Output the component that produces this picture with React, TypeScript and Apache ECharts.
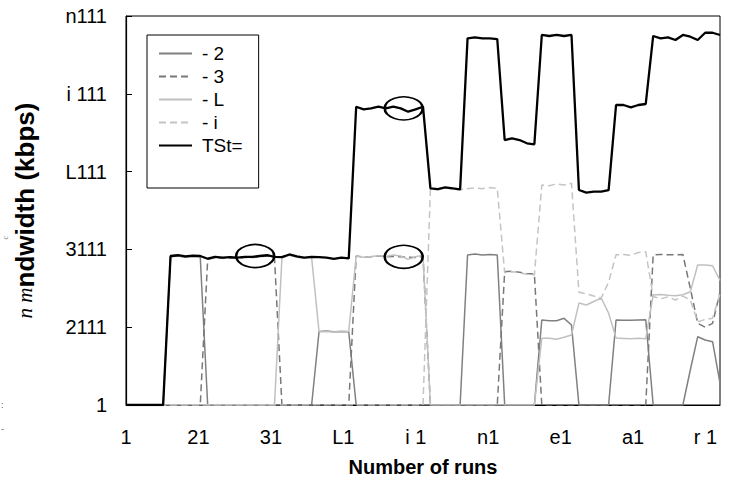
import React, { useEffect, useRef } from "react";
import * as echarts from "echarts";

// Garbled tick labels as printed in the reference
const yTickLabels = ["1", "2111", "3111", "L111", "i 111", "n111"];
const xTickLabels = ["1", "21", "31", "L1", "i 1", "n1", "e1", "a1", "r 1"];

const seriesNames = ["- 2", "- 3", "- L", "- i", "TSt="];

// Values per run (index 0..80)
const total = [
  0, 0, 0, 0, 0, 0,
  1915, 1925, 1910, 1920, 1915, 1880, 1905, 1895, 1900, 1895, 1905, 1905, 1915, 1925,
  1905, 1900, 1935, 1910, 1895, 1905, 1900, 1893, 1877, 1893, 1885,
  3834, 3800, 3813, 3834, 3813, 3834, 3813, 3770, 3800, 3834,
  2785, 2776, 2798, 2785, 2772,
  4713, 4726, 4713, 4713, 4704,
  3406, 3428, 3406, 3364, 3351,
  4756, 4743, 4756, 4743, 4756,
  2763, 2729, 2742, 2742, 2763,
  3856, 3856, 3826, 3856, 3869,
  4743, 4713, 4726, 4692, 4756, 4734, 4692, 4785, 4785, 4756,
];

const flow2 = [
  0, 0, 0, 0, 0, 0,
  1905, 1915, 1900, 1910, 1905,
  0, 0, 0, 0, 0, 0, 0, 0, 0, 0, 0, 0, 0, 0, 0,
  945, 950, 940, 945, 940,
  0, 0, 0, 0, 0, 0, 0, 0, 0, 0, 0, 0, 0, 0, 0,
  1928, 1940, 1928, 1935, 1928,
  0, 0, 0, 0, 0,
  1093, 1084, 1084, 1114, 1028,
  0, 0, 0, 0, 0,
  1093, 1090, 1088, 1093, 1095,
  0, 0, 0, 0, 0,
  450, 878, 835, 814, 280,
];

const flow3 = [
  0, 0, 0, 0, 0, 0, 0, 0, 0, 0, 0,
  1870, 1895, 1885, 1890, 1885, 1895, 1895, 1905, 1915, 1895,
  0, 0, 0, 0, 0, 0, 0, 0, 0, 0,
  1915, 1900, 1905, 1915, 1905, 1910, 1905, 1900, 1895, 1910,
  0, 0, 0, 0, 0, 0, 0, 0, 0, 0,
  1713, 1720, 1706, 1690, 1684,
  0, 0, 0, 0, 0, 0, 0, 0, 0, 0, 0, 0, 0, 0, 0,
  1930, 1935, 1932, 1930, 1935,
  1500, 1050, 1000, 1050, 1450,
];

const flowL = [
  0, 0, 0, 0, 0, 0, 0, 0, 0, 0, 0, 0, 0, 0, 0, 0, 0, 0, 0, 0, 0,
  1890, 1925, 1900, 1885, 1895,
  942, 945, 937, 948, 945,
  1915, 1900, 1908, 1918, 1908, 1928, 1915, 1872, 1906, 1924,
  0, 0, 0, 0, 0, 0, 0, 0, 0, 0, 0, 0, 0, 0, 0,
  857, 857, 844, 870, 900,
  1310, 1285, 1330, 1375, 1180,
  860, 855, 850, 858, 852,
  1414, 1420, 1410, 1405, 1418,
  1456, 1800, 1800, 1790, 1600,
];

const flowI = [
  0, 0, 0, 0, 0, 0, 0, 0, 0, 0, 0, 0, 0, 0, 0, 0, 0, 0, 0, 0,
  0, 0, 0, 0, 0, 0, 0, 0, 0, 0, 0, 0, 0, 0, 0, 0, 0, 0, 0, 0, 0,
  2775, 2766, 2788, 2775, 2762,
  2780, 2790, 2780, 2795, 2785,
  1700, 1712, 1698, 1680, 1670,
  2828, 2819, 2841, 2828, 2850,
  1450, 1430, 1400, 1375, 1580,
  1930, 1935, 1925, 1960, 1970,
  1395, 1365, 1390, 1350, 1400,
  1350, 1070, 1100, 1115, 1430,
];

// Highlighted spots (run, value)
const highlights = [
  [17.4, 1915],
  [37.4, 3813],
  [37.4, 1905],
];

const FONT = "'Liberation Sans', Arial, sans-serif";

function toPairs(values: number[]) {
  return values.map((v, i) => [i, v]);
}

export default function App() {
  const ref = useRef<HTMLDivElement>(null);

  useEffect(() => {
    if (!ref.current) return;
    const chart = echarts.init(ref.current, null, { renderer: "svg" });

    const flowStyles = [
      { color: "#808080", width: 1.5, type: "solid" },
      { color: "#787878", width: 1.5, type: [7, 4] },
      { color: "#c0c0c0", width: 1.5, type: "solid" },
      { color: "#c4c4c4", width: 1.5, type: [7, 4] },
    ];
    const flows = [flow2, flow3, flowL, flowI];

    const series: any[] = flows.map((vals, k) => ({
      name: seriesNames[k],
      type: "line",
      xAxisIndex: 0,
      yAxisIndex: 0,
      data: toPairs(vals),
      symbol: "none",
      lineStyle: flowStyles[k],
      itemStyle: { color: flowStyles[k].color },
    }));
    series.push({
      name: seriesNames[4],
      type: "line",
      xAxisIndex: 0,
      yAxisIndex: 0,
      data: toPairs(total),
      symbol: "none",
      lineStyle: { color: "#000", width: 2.3 },
      itemStyle: { color: "#000" },
      z: 5,
      markPoint: {
        symbol: "circle",
        symbolSize: [38, 23],
        silent: true,
        label: { show: false },
        itemStyle: { color: "rgba(0,0,0,0)", borderColor: "#000", borderWidth: 2 },
        data: highlights.map((h) => ({ coord: h })),
      },
    });

    chart.setOption({
      animation: false,
      backgroundColor: "#fff",
      grid: {
        left: 126,
        top: 16,
        width: 594,
        height: 389,
        show: true,
        borderColor: "#000",
        borderWidth: 1,
        backgroundColor: "transparent",
      },
      legend: {
        orient: "vertical",
        left: 147,
        top: 35,
        data: seriesNames,
        itemWidth: 33,
        itemHeight: 14,
        itemGap: 4,
        padding: [9, 16, 33, 11],
        borderColor: "#000",
        borderWidth: 1,
        backgroundColor: "#fff",
        selectedMode: false,
        itemStyle: { color: "rgba(0,0,0,0)", borderWidth: 0, opacity: 0 },
        textStyle: {
          fontFamily: FONT,
          fontSize: 19,
          color: "#000",
          lineHeight: 18,
          padding: [0, 0, 0, 5],
        },
      },
      xAxis: [
        {
          type: "value",
          min: 0,
          max: 80,
          interval: 10,
          axisLine: { show: true, lineStyle: { color: "#000", width: 1 } },
          axisTick: { show: false },
          axisLabel: { show: false },
          splitLine: { show: false },
          name: "Number of runs",
          nameLocation: "middle",
          nameGap: 52,
          nameTextStyle: { fontFamily: FONT, fontSize: 20, fontWeight: "bold", color: "#000" },
        },
        {
          type: "value",
          position: "bottom",
          min: 0,
          max: 82,
          interval: 10,
          axisLine: { show: false },
          axisTick: { show: false },
          splitLine: { show: false },
          axisLabel: {
            margin: 22,
            fontFamily: FONT,
            fontSize: 20,
            color: "#000",
            formatter: (v: number) => {
              const k = Math.round(v / 10);
              return v % 10 === 0 && k < xTickLabels.length ? xTickLabels[k] : "";
            },
          },
        },
      ],
      yAxis: {
        type: "value",
        min: 0,
        max: 5000,
        interval: 1000,
        axisLine: { show: true, lineStyle: { color: "#000", width: 1.2 } },
        axisTick: { show: true, inside: true, length: 6, lineStyle: { color: "#000" } },
        splitLine: { show: false },
        axisLabel: {
          margin: 19,
          fontFamily: FONT,
          fontSize: 20,
          color: "#000",
          formatter: (v: number) => yTickLabels[Math.round(v / 1000)] ?? "",
        },
        name: "{a|n m}{b|ndwidth (kbps)}",
        nameLocation: "middle",
        nameGap: 88,
        nameRotate: 90,
        nameTextStyle: {
          rich: {
            a: { fontFamily: "'Liberation Serif', serif", fontStyle: "italic", fontSize: 21, color: "#000" },
            b: { fontFamily: FONT, fontWeight: "bold", fontSize: 26, color: "#000" },
          },
        },
      },
      graphic: [
        { type: "text", left: 1, top: 236, rotation: Math.PI / 2, style: { text: "c", fontSize: 8, fill: "#777", fontFamily: "'Liberation Serif', serif" } },
        { type: "text", left: 1, top: 400, style: { text: ":", fontSize: 9, fill: "#555", fontFamily: FONT } },
        { type: "text", left: 1, top: 424, style: { text: "-", fontSize: 9, fill: "#555", fontFamily: FONT } },
      ],
      series,
    });

    return () => chart.dispose();
  }, []);

  return (
    <div
      ref={ref}
      style={{ position: "fixed", left: 0, top: 0, width: 746, height: 485, background: "#fff" }}
    />
  );
}
